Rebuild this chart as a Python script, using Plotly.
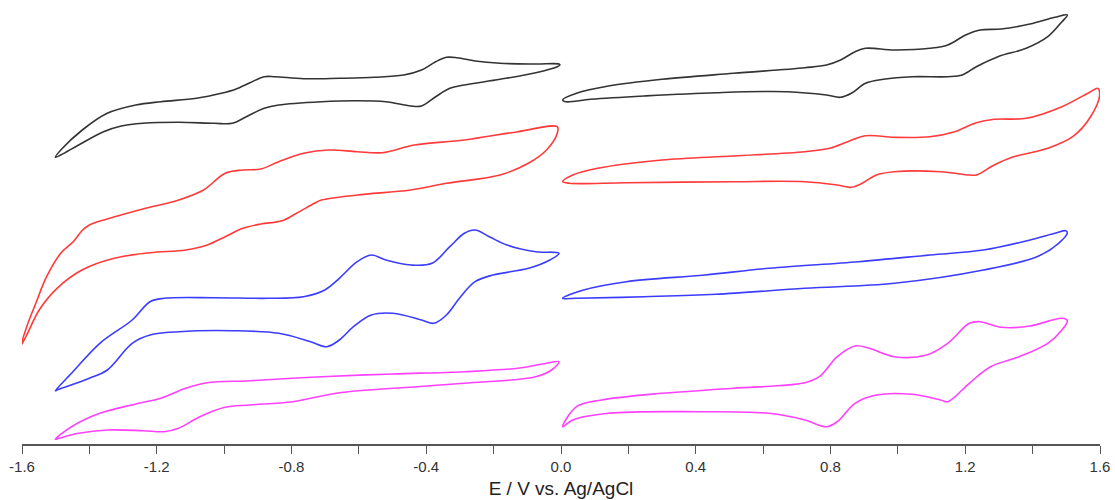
import plotly.graph_objects as go

# Cyclic voltammograms: potential E (V vs. Ag/AgCl) and current (a.u., vertically offset traces)
# Cathodic window (0 to -1.6 V)
black_neg_E = [-1.501, -1.480, -1.421, -1.347, -1.262, -1.188, -1.082, -1.008, -0.966, -0.923, -0.881, -0.849,
               -0.764, -0.658, -0.552, -0.467, -0.414, -0.372, -0.340, -0.308, -0.255, -0.181, -0.075, -0.006,
               -0.003, -0.011, -0.075, -0.181, -0.287, -0.330, -0.372, -0.414, -0.446, -0.520, -0.605, -0.711,
               -0.838, -0.881, -0.934, -0.976, -1.029, -1.135, -1.241, -1.305, -1.358, -1.432, -1.485, -1.501]
black_neg_I = [286.7, 295.7, 314.0, 330.7, 339.0, 342.3, 345.7, 350.7, 354.7, 361.3, 367.3, 367.3,
               365.3, 365.7, 366.7, 369.0, 374.0, 382.3, 386.7, 386.3, 383.0, 380.7, 380.0, 380.0,
               379.0, 377.3, 371.3, 364.7, 359.0, 355.7, 347.3, 338.0, 338.0, 342.3, 343.3, 342.3,
               339.0, 335.7, 327.3, 320.7, 320.7, 321.7, 320.7, 318.0, 312.3, 299.0, 289.0, 286.7]

red_neg_E = [-0.011, -0.128, -0.287, -0.435, -0.531, -0.605, -0.690, -0.764, -0.838, -0.891, -0.944, -0.997,
             -1.061, -1.135, -1.241, -1.347, -1.400, -1.422, -1.448, -1.485, -1.527, -1.559, -1.586, -1.602,
             -1.586, -1.549, -1.496, -1.422, -1.326, -1.220, -1.114, -1.050, -0.997, -0.944, -0.891, -0.828,
             -0.785, -0.732, -0.711, -0.605, -0.446, -0.340, -0.181, -0.097, -0.043, -0.011, -0.011]
red_neg_I = [317.3, 312.3, 304.0, 299.0, 291.3, 292.3, 294.0, 290.7, 282.3, 275.0, 274.0, 270.7,
             254.0, 244.0, 235.0, 225.0, 219.0, 213.3, 202.3, 190.7, 167.3, 140.7, 117.3, 99.0,
             109.0, 134.0, 155.7, 174.0, 185.7, 191.3, 194.0, 199.0, 207.3, 215.7, 220.0, 223.3,
             230.7, 240.7, 244.0, 249.0, 254.0, 260.7, 269.0, 280.7, 294.0, 310.7, 317.3]

blue_neg_E = [-1.501, -1.453, -1.369, -1.273, -1.220, -1.178, -1.029, -0.870, -0.764, -0.701, -0.658, -0.605,
              -0.563, -0.520, -0.446, -0.383, -0.330, -0.287, -0.255, -0.213, -0.160, -0.075, -0.006,
              -0.033, -0.096, -0.202, -0.255, -0.298, -0.340, -0.377, -0.414, -0.499, -0.563, -0.616,
              -0.658, -0.695, -0.743, -0.838, -0.976, -1.135, -1.220, -1.273, -1.347, -1.400, -1.496, -1.501]
blue_neg_I = [53.3, 70.7, 100.7, 124.0, 142.3, 145.7, 146.3, 145.7, 147.3, 154.0, 165.7, 182.3,
              189.0, 184.0, 179.0, 180.7, 197.3, 210.7, 214.0, 207.3, 199.0, 192.3, 190.7,
              184.0, 175.7, 169.0, 162.3, 147.3, 129.0, 120.7, 124.0, 130.7, 129.0, 117.3,
              104.0, 97.3, 102.3, 110.7, 113.3, 112.3, 109.0, 100.7, 74.0, 65.7, 54.0, 53.3]

magenta_neg_E = [-1.501, -1.453, -1.369, -1.262, -1.188, -1.114, -1.050, -0.923, -0.711, -0.499, -0.287, -0.128,
                 -0.054, -0.006, -0.028, -0.075, -0.287, -0.499, -0.658, -0.796, -0.923, -0.997, -1.072,
                 -1.135, -1.178, -1.241, -1.347, -1.432, -1.490, -1.501]
magenta_neg_I = [4.7, 17.3, 30.7, 40.0, 45.7, 55.7, 61.3, 63.3, 67.3, 70.0, 72.3, 75.7,
                 80.0, 82.3, 74.0, 67.3, 60.7, 55.7, 51.3, 42.3, 39.0, 36.7, 27.3,
                 15.7, 12.3, 13.3, 14.0, 10.7, 5.7, 4.7]

# Anodic window (0 to +1.6 V)
black_pos_E = [0.005, 0.046, 0.141, 0.300, 0.512, 0.724, 0.788, 0.830, 0.873, 0.904, 0.989, 1.095, 1.148,
               1.201, 1.244, 1.307, 1.392, 1.466, 1.503, 1.487, 1.445, 1.381, 1.297, 1.233, 1.191, 1.148,
               1.042, 0.957, 0.904, 0.862, 0.830, 0.788, 0.671, 0.459, 0.247, 0.088, 0.014, 0.005]
black_pos_I = [344.0, 350.7, 358.0, 364.7, 370.7, 376.3, 379.0, 384.0, 392.3, 395.7, 394.0, 395.7, 399.0,
               409.0, 414.0, 415.0, 420.0, 426.7, 429.0, 422.3, 407.3, 395.7, 387.3, 377.3, 369.0, 367.3,
               367.3, 364.7, 360.7, 350.7, 346.7, 349.0, 352.3, 351.3, 348.0, 344.7, 342.3, 344.0]

red_pos_E = [0.005, 0.035, 0.109, 0.300, 0.512, 0.724, 0.798, 0.851, 0.904, 0.989, 1.095, 1.169, 1.233,
             1.286, 1.381, 1.487, 1.572, 1.593, 1.599, 1.572, 1.519, 1.445, 1.339, 1.286, 1.233, 1.212,
             1.127, 0.989, 0.936, 0.894, 0.862, 0.820, 0.724, 0.512, 0.194, 0.025, 0.005]
red_pos_I = [262.3, 269.0, 275.7, 284.0, 288.0, 292.3, 295.7, 302.3, 308.3, 306.7, 307.3, 312.3, 321.3,
             324.7, 325.7, 337.3, 352.3, 355.7, 349.0, 327.3, 307.3, 295.7, 286.7, 279.0, 269.0, 269.0,
             272.3, 272.3, 269.0, 260.7, 256.7, 259.0, 262.3, 262.3, 261.3, 260.7, 262.3]

blue_pos_E = [0.005, 0.067, 0.194, 0.427, 0.618, 0.883, 1.095, 1.254, 1.392, 1.466, 1.498, 1.503,
              1.477, 1.413, 1.254, 0.989, 0.724, 0.459, 0.247, 0.046, 0.005]
blue_pos_I = [145.7, 154.0, 162.3, 169.0, 175.7, 182.3, 189.0, 194.0, 204.0, 210.7, 213.3, 211.3,
              200.7, 187.3, 174.0, 160.7, 155.7, 149.7, 147.3, 145.7, 145.7]

magenta_pos_E = [0.005, 0.046, 0.120, 0.300, 0.512, 0.724, 0.767, 0.820, 0.873, 0.915, 0.989, 1.085, 1.148,
                 1.212, 1.244, 1.307, 1.392, 1.487, 1.503, 1.487, 1.445, 1.360, 1.275, 1.212, 1.148, 1.127,
                 1.042, 0.936, 0.873, 0.820, 0.788, 0.724, 0.618, 0.406, 0.141, 0.035, 0.005]
magenta_pos_I = [17.3, 37.3, 44.0, 50.7, 55.7, 61.3, 67.3, 87.3, 98.0, 95.7, 87.3, 89.0, 100.7,
                 120.7, 122.3, 116.7, 118.0, 125.7, 123.3, 114.0, 100.7, 87.3, 77.3, 60.7, 42.3, 44.0,
                 49.7, 49.0, 40.7, 22.3, 17.3, 24.0, 30.7, 32.3, 30.7, 24.0, 17.3]

tick_vals = [-1.6, -1.2, -0.8, -0.4, 0.0, 0.4, 0.8, 1.2, 1.6]
tick_text = ["-1.6", "-1.2", "-0.8", "-0.4", "0.0", "0.4", "0.8", "1.2", "1.6"]

BLACK = "#333333"
RED = "#ff3a3a"
BLUE = "#3c3cff"
MAGENTA = "#ff40ff"

traces = [
    (black_neg_E, black_neg_I, BLACK),
    (red_neg_E, red_neg_I, RED),
    (blue_neg_E, blue_neg_I, BLUE),
    (magenta_neg_E, magenta_neg_I, MAGENTA),
    (black_pos_E, black_pos_I, BLACK),
    (red_pos_E, red_pos_I, RED),
    (blue_pos_E, blue_pos_I, BLUE),
    (magenta_pos_E, magenta_pos_I, MAGENTA),
]

fig = go.Figure()
for E, I, color in traces:
    fig.add_trace(go.Scatter(
        x=E, y=I, mode="lines",
        line=dict(color=color, width=1.6, shape="spline", smoothing=1.0),
        showlegend=False, hoverinfo="skip",
    ))

fig.update_layout(
    width=1115, height=500,
    margin=dict(l=22, r=15, t=0, b=56),
    paper_bgcolor="white", plot_bgcolor="white",
    font=dict(family="Liberation Sans, Arial, sans-serif", color="#333333"),
    xaxis=dict(
        range=[-1.6, 1.6],
        tickvals=tick_vals, ticktext=tick_text,
        ticks="outside", ticklen=8, tickwidth=1.3, tickcolor="#555555",
        minor=dict(dtick=0.2, tick0=0, ticks="outside", ticklen=8, tickwidth=1.3, tickcolor="#555555"),
        showline=True, linecolor="#555555", linewidth=1.5,
        showgrid=False, zeroline=False,
        tickfont=dict(size=15, color="#333333"),
        title=dict(text="E / V vs. Ag/AgCl", font=dict(size=19, color="#222222"), standoff=8),
    ),
    yaxis=dict(range=[0, 444], visible=False, showgrid=False, zeroline=False),
)

fig.write_html("out.html")
